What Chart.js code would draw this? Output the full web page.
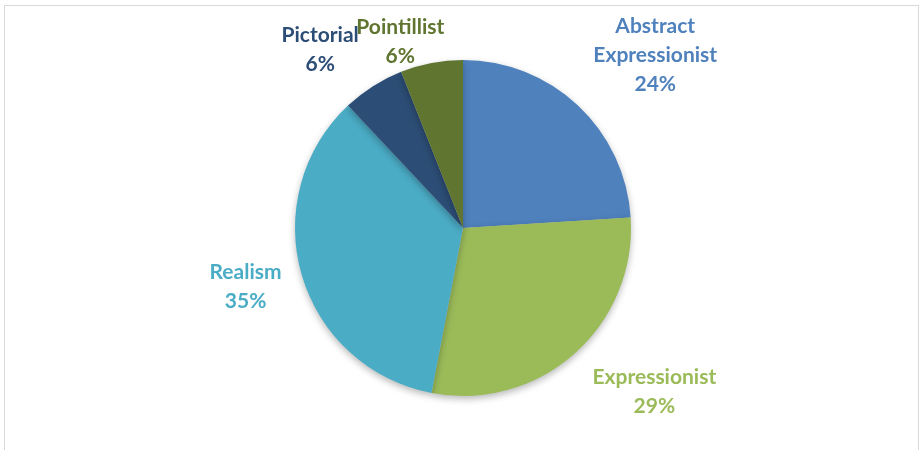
<!DOCTYPE html>
<html lang="en">
<head>
<meta charset="UTF-8">
<title>Art styles</title>
<script src="https://cdn.jsdelivr.net/npm/chart.js@4.4.1/dist/chart.umd.min.js"></script>
<style>
  html, body { margin: 0; padding: 0; background: #fff; }
  #wrap { position: relative; width: 923px; height: 450px; overflow: hidden; }
  #frame { position: absolute; left: 4px; top: 5px; width: 913px; height: 470px; border: 1px solid #d9d9d9; }
</style>
</head>
<body>
<div id="wrap">
  <div id="frame"></div>
  <canvas id="myChart" width="923" height="450"></canvas>
</div>
<script>
  // data, clockwise from 12 o'clock
  const styles = ['Abstract Expressionist', 'Expressionist', 'Realism', 'Pictorial', 'Pointillist'];
  const shares = [24, 29, 35, 6, 6];
  const labelLines = [['Abstract', 'Expressionist'], ['Expressionist'], ['Realism'], ['Pictorial'], ['Pointillist']];
  const colors = ['#4f81bd', '#9bbb59', '#4bacc6', '#2c4d75', '#5f7530'];

  // where each outside label sits: distance in pie radii, angle shift in degrees
  const labelPlace = [[1.54, 4.8], [1.5, -8], [1.34, 1.2], [1.36, -6.3], [1.17, -7.8]];

  const shadowPlugin = {
    id: 'pieShadow',
    beforeDatasetsDraw(chart) {
      const c = chart.ctx;
      c.save();
      c.shadowColor = 'rgba(0,0,0,0.28)';
      c.shadowBlur = 7;
      c.shadowOffsetY = 3;
    },
    afterDatasetsDraw(chart) {
      chart.ctx.restore();
    }
  };

  const outsideLabels = {
    id: 'outsideLabels',
    afterDraw(chart) {
      const c = chart.ctx;
      const arcs = chart.getDatasetMeta(0).data;
      c.save();
      c.font = 'bold 21px Lato';
      c.textAlign = 'center';
      c.textBaseline = 'middle';
      arcs.forEach((arc, i) => {
        const mid = (arc.startAngle + arc.endAngle) / 2 + labelPlace[i][1] * Math.PI / 180;
        const r = arc.outerRadius * labelPlace[i][0];
        const cx = arc.x + Math.cos(mid) * r;
        const cy = arc.y + Math.sin(mid) * r;
        const lines = labelLines[i].concat([shares[i] + '%']);
        const lh = 29;
        const top = cy - (lines.length - 1) * lh / 2;
        c.fillStyle = colors[i];
        lines.forEach((t, k) => c.fillText(t, cx, top + k * lh));
      });
      c.restore();
    }
  };

  const ctx = document.getElementById('myChart').getContext('2d');
  new Chart(ctx, {
    type: 'pie',
    data: {
      labels: styles,
      datasets: [{
        data: shares,
        backgroundColor: colors,
        borderWidth: 0
      }]
    },
    options: {
      responsive: false,
      animation: false,
      layout: { padding: { top: 60, bottom: 54, left: 3, right: 0 } },
      plugins: {
        legend: { display: false },
        tooltip: { enabled: false }
      }
    },
    plugins: [shadowPlugin, outsideLabels]
  });
</script>
</body>
</html>
